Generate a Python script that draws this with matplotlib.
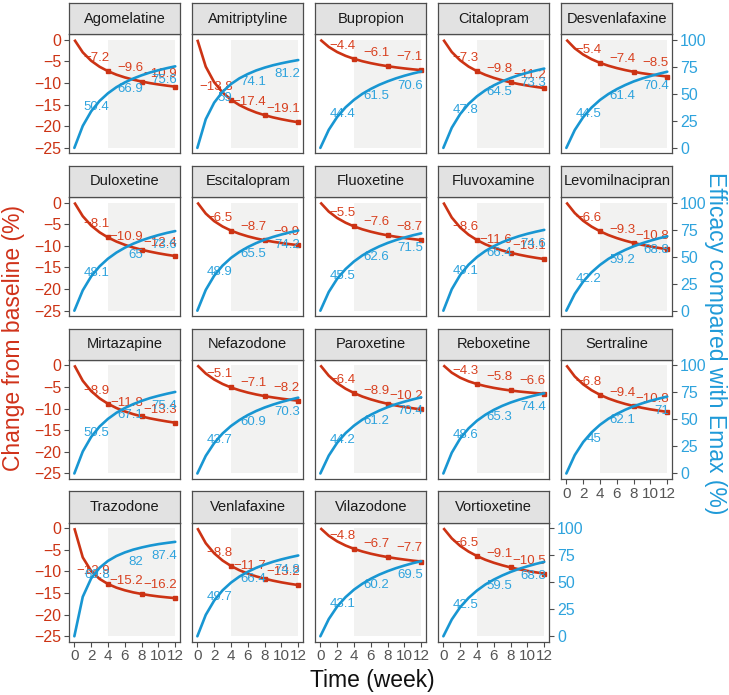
import matplotlib
matplotlib.use("Agg")
import matplotlib.pyplot as plt
from matplotlib.patches import Rectangle

plt.rcParams['font.family'] = ['Liberation Sans', 'DejaVu Sans']

# ---------------- data ----------------
drugs = ["Agomelatine", "Amitriptyline", "Bupropion", "Citalopram", "Desvenlafaxine",
         "Duloxetine", "Escitalopram", "Fluoxetine", "Fluvoxamine", "Levomilnacipran",
         "Mirtazapine", "Nefazodone", "Paroxetine", "Reboxetine", "Sertraline",
         "Trazodone", "Venlafaxine", "Vilazodone", "Vortioxetine"]

weeks = [0, 1, 2, 3, 4, 5, 6, 7, 8, 9, 10, 11, 12]

# Emax (maximal change from baseline, %) per drug
emax = [14.4, 23.5, 9.95, 15.25, 12.08, 16.8, 13.3, 12.13, 17.5, 15.7,
        17.6, 11.66, 14.5, 8.87, 15.15, 18.54, 17.63, 11.12, 15.28]

# Efficacy compared with Emax (%) by week
eff_agomelatine = [0, 20.3, 33.8, 43.4, 50.5, 56.1, 60.5, 64.1, 67.1, 69.7, 71.8, 73.7, 75.4]
eff_amitriptyline = [0, 26.5, 41.8, 51.9, 59.0, 64.3, 68.3, 71.6, 74.2, 76.4, 78.2, 79.8, 81.2]
eff_bupropion = [0, 16.7, 28.6, 37.5, 44.4, 50.0, 54.5, 58.3, 61.5, 64.3, 66.7, 68.8, 70.6]
eff_citalopram = [0, 18.6, 31.3, 40.7, 47.7, 53.3, 57.8, 61.5, 64.6, 67.3, 69.5, 71.5, 73.3]
eff_desvenlafaxine = [0, 16.5, 28.4, 37.3, 44.3, 49.8, 54.3, 58.1, 61.4, 64.1, 66.4, 68.5, 70.4]
eff_duloxetine = [0, 18.8, 31.7, 41.0, 48.1, 53.7, 58.2, 61.9, 65.0, 67.6, 69.9, 71.9, 73.6]
eff_escitalopram = [0, 19.2, 32.3, 41.7, 48.8, 54.3, 58.8, 62.5, 65.6, 68.2, 70.4, 72.4, 74.1]
eff_fluoxetine = [0, 17.3, 29.5, 38.5, 45.5, 51.1, 55.6, 59.4, 62.6, 65.3, 67.6, 69.7, 71.5]
eff_fluvoxamine = [0, 19.8, 33.0, 42.5, 49.6, 55.2, 59.6, 63.3, 66.3, 68.9, 71.1, 73.0, 74.7]
eff_levomilnacipran = [0, 15.5, 26.9, 35.5, 42.3, 47.9, 52.4, 56.2, 59.5, 62.3, 64.7, 66.9, 68.8]
eff_mirtazapine = [0, 20.3, 33.8, 43.4, 50.5, 56.1, 60.5, 64.1, 67.1, 69.7, 71.8, 73.7, 75.4]
eff_nefazodone = [0, 16.3, 28.1, 37.0, 43.9, 49.4, 54.0, 57.8, 61.0, 63.7, 66.1, 68.2, 70.1]
eff_paroxetine = [0, 16.5, 28.4, 37.3, 44.2, 49.8, 54.3, 58.1, 61.3, 64.1, 66.4, 68.5, 70.4]
eff_reboxetine = [0, 19.2, 32.3, 41.7, 48.8, 54.3, 58.8, 62.5, 65.6, 68.2, 70.4, 72.4, 74.1]
eff_sertraline = [0, 17.0, 29.0, 38.0, 45.0, 50.6, 55.1, 58.9, 62.1, 64.8, 67.2, 69.2, 71.1]
eff_trazodone = [0, 36.5, 53.5, 63.3, 69.7, 74.2, 77.5, 80.1, 82.1, 83.8, 85.2, 86.3, 87.3]
eff_venlafaxine = [0, 19.8, 33.0, 42.5, 49.6, 55.2, 59.6, 63.3, 66.3, 68.9, 71.1, 73.0, 74.7]
eff_vilazodone = [0, 15.9, 27.5, 36.2, 43.1, 48.6, 53.2, 57.0, 60.2, 63.0, 65.4, 67.6, 69.4]
eff_vortioxetine = [0, 15.5, 26.9, 35.5, 42.3, 47.9, 52.4, 56.2, 59.5, 62.3, 64.7, 66.9, 68.8]

eff_curves = [eff_agomelatine, eff_amitriptyline, eff_bupropion, eff_citalopram,
              eff_desvenlafaxine, eff_duloxetine, eff_escitalopram, eff_fluoxetine,
              eff_fluvoxamine, eff_levomilnacipran, eff_mirtazapine, eff_nefazodone,
              eff_paroxetine, eff_reboxetine, eff_sertraline, eff_trazodone,
              eff_venlafaxine, eff_vilazodone, eff_vortioxetine]

# printed labels at weeks 4, 8, 12
change_wk4 = [-7.2, -13.8, -4.4, -7.3, -5.4, -8.1, -6.5, -5.5, -8.6, -6.6,
              -8.9, -5.1, -6.4, -4.3, -6.8, -12.9, -8.8, -4.8, -6.5]
change_wk8 = [-9.6, -17.4, -6.1, -9.8, -7.4, -10.9, -8.7, -7.6, -11.6, -9.3,
              -11.8, -7.1, -8.9, -5.8, -9.4, -15.2, -11.7, -6.7, -9.1]
change_wk12 = [-10.9, -19.1, -7.1, -11.2, -8.5, -12.4, -9.9, -8.7, -13.1, -10.8,
               -13.3, -8.2, -10.2, -6.6, -10.8, -16.2, -13.2, -7.7, -10.5]
eff_wk4 = [50.4, 59, 44.4, 47.8, 44.5, 48.1, 48.9, 45.5, 49.1, 42.2,
           50.5, 43.7, 44.2, 48.6, 45, 69.8, 49.7, 43.1, 42.5]
eff_wk8 = [66.9, 74.1, 61.5, 64.5, 61.4, 65, 65.5, 62.6, 66.4, 59.2,
           67.1, 60.9, 61.2, 65.3, 62.1, 82, 66.4, 60.2, 59.5]
eff_wk12 = [75.6, 81.2, 70.6, 73.3, 70.4, 73.6, 74.2, 71.5, 74.6, 68.8,
            75.4, 70.3, 70.4, 74.4, 71, 87.4, 74.8, 69.5, 68.8]

label_weeks = [4, 8, 12]
left_ticks = [0, -5, -10, -15, -20, -25]
right_ticks = [0, 25, 50, 75, 100]
x_ticks = [0, 2, 4, 6, 8, 10, 12]

# ---------------- style ----------------
RED = '#cc3314'
RED_TXT = '#d8401f'
BLUE = '#1896d2'
BLUE_TXT = '#2ea3dd'
FRAME = '#4d4d4d'
SHADE = '#f2f2f1'
STRIP = '#e2e2e2'

W, H = 729, 695
fig = plt.figure(figsize=(W / 100, H / 100), dpi=100, facecolor='white')

col_x = [69.3 + 123.0 * k for k in range(5)]
row_top = [34.3 + 162.8 * k for k in range(4)]
pw, ph, sh = 111.0, 119.0, 31.3


def rect(x, ytop, w, h):
    return [x / W, 1 - (ytop + h) / H, w / W, h / H]


def fmt(v):
    return f"{v:g}".replace('-', '\u2212')


n = len(drugs)
for i, name in enumerate(drugs):
    r, c = divmod(i, 5)
    ax = fig.add_axes(rect(col_x[c], row_top[r], pw, ph))
    ax.set_xlim(-0.6, 12.6)
    ax.set_ylim(-26.25, 1.25)
    ax.set_facecolor('white')
    for s in ax.spines.values():
        s.set_color(FRAME)
        s.set_linewidth(0.9)

    ax.add_patch(Rectangle((4, -25), 8, 25, facecolor=SHADE, edgecolor='none', zorder=0))

    eff = eff_curves[i]
    change = [-emax[i] * e / 100.0 for e in eff]

    ax.plot(weeks, change, color=RED, lw=1.9, zorder=3, marker='s',
            markevery=[4, 8, 12], ms=3.3, solid_capstyle='butt')

    ax2 = ax.twinx()
    ax2.set_ylim(-5, 105)
    for s in ax2.spines.values():
        s.set_visible(False)
    ax2.plot(weeks, eff, color=BLUE, lw=1.9, zorder=3, solid_capstyle='round')

    for wk, cv, ev in zip(label_weeks,
                          [change_wk4[i], change_wk8[i], change_wk12[i]],
                          [eff_wk4[i], eff_wk8[i], eff_wk12[i]]):
        ax.annotate(fmt(cv), xy=(wk, change[wk]), xytext=(1.2, 9.4),
                    textcoords='offset points', ha='right', va='center',
                    color=RED_TXT, fontsize=9.5, zorder=2)
        ax2.annotate(fmt(ev), xy=(wk, eff[wk]), xytext=(1.2, -10.2),
                     textcoords='offset points', ha='right', va='center',
                     color=BLUE_TXT, fontsize=9.5, zorder=1)

    # left axis
    ax.set_yticks(left_ticks)
    ax.tick_params(axis='y', colors=FRAME, labelcolor=RED, labelsize=11.5,
                   length=3.5, width=0.8, pad=2)
    if c != 0:
        ax.tick_params(axis='y', left=False, labelleft=False)

    # right axis
    ax2.set_yticks(right_ticks)
    ax2.tick_params(axis='y', colors=FRAME, labelcolor=BLUE_TXT, labelsize=11.5,
                    length=3.5, width=0.8, pad=2)
    if not (c == 4 or i == n - 1):
        ax2.tick_params(axis='y', right=False, labelright=False)

    # x axis
    ax.set_xticks(x_ticks)
    ax.tick_params(axis='x', colors=FRAME, labelcolor='#555555', labelsize=11,
                   length=3.5, width=0.8, pad=2)
    if i + 5 < n:
        ax.tick_params(axis='x', bottom=False, labelbottom=False)

    # strip
    sax = fig.add_axes(rect(col_x[c], row_top[r] - sh, pw, sh))
    sax.set_facecolor(STRIP)
    sax.set_xticks([])
    sax.set_yticks([])
    for s in sax.spines.values():
        s.set_color(FRAME)
        s.set_linewidth(0.9)
    sax.text(0.5, 0.5, name, ha='center', va='center', fontsize=10.5,
             color='#1a1a1a', transform=sax.transAxes)

fig.text(14 / W, 1 - 338 / H, "Change from baseline (%)", rotation=90,
         color='#d0321a', fontsize=16.5, ha='center', va='center')
fig.text(716 / W, 1 - 343 / H, "Efficacy compared with Emax (%)", rotation=-90,
         color='#1f9ad8', fontsize=16.5, ha='center', va='center')
fig.text(372 / W, 1 - 680 / H, "Time (week)", color='#111111', fontsize=16.5,
         ha='center', va='center')

fig.savefig('out.png', dpi=100, facecolor='white')
